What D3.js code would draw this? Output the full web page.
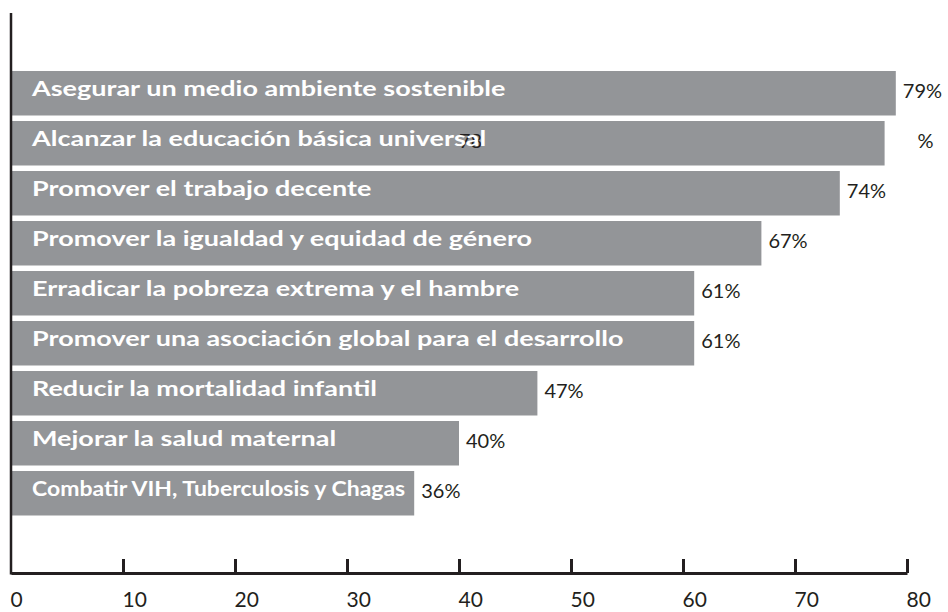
<!DOCTYPE html>
<html><head><meta charset="utf-8">
<script src="https://cdn.jsdelivr.net/npm/d3@7"></script>
<style>body{margin:0;background:#fff}svg{display:block}</style>
</head><body>
<script>
const categories = [
  "Asegurar un medio ambiente sostenible",
  "Alcanzar la educación básica universal",
  "Promover el trabajo decente",
  "Promover la igualdad y equidad de género",
  "Erradicar la pobreza extrema y el hambre",
  "Promover una asociación global para el desarrollo",
  "Reducir la mortalidad infantil",
  "Mejorar la salud maternal",
  "Combatir VIH, Tuberculosis y Chagas"
];
const values = [79, 78, 74, 67, 61, 61, 47, 40, 36];
const xTicks = [0, 10, 20, 30, 40, 50, 60, 70, 80];

const W = 948, H = 612;
const svg = d3.select("body").append("svg").attr("width", W).attr("height", H);
const font = "Lato, 'Open Sans', sans-serif";
const ink = "#231f20";

const x = d3.scaleLinear().domain([0, 80]).range([11, 907]);
const y = d3.scaleBand().domain(categories).range([68.5, 518]).paddingInner(0.11).paddingOuter(0.05);

// bars
svg.selectAll("rect.bar").data(categories).join("rect")
  .attr("class", "bar")
  .attr("x", x(0))
  .attr("y", d => y(d))
  .attr("width", (d, i) => x(values[i]) - x(0))
  .attr("height", y.bandwidth())
  .attr("fill", "#939598");

// value labels
svg.selectAll("text.val").data(categories).join("text")
  .attr("class", "val")
  .attr("x", (d, i) => i === 1 ? x(40) : x(values[i]) + 7)
  .attr("y", d => y(d) + y.bandwidth() / 2 + 4.5)
  .attr("font-family", font).attr("font-size", 20).attr("fill", ink)
  .text((d, i) => i === 1 ? String(values[i]) : values[i] + "%");
// stray percent sign of the second bar
svg.append("text")
  .attr("x", x(values[1]) + 33)
  .attr("y", y(categories[1]) + y.bandwidth() / 2 + 4.5)
  .attr("font-family", font).attr("font-size", 20).attr("fill", ink)
  .text("%");

// category labels (wide humanist bold: stretched horizontally)
svg.selectAll("text.cat").data(categories).join("text")
  .attr("class", "cat")
  .attr("x", 32)
  .attr("y", d => y(d) + y.bandwidth() / 2 + 3)
  .attr("font-family", font).attr("font-weight", 700)
  .attr("font-size", 20)
  .attr("fill", "#fff")
  .text(d => d)
  .each(function(d, i) {
    const len = this.getComputedTextLength();
    const target = i === 8 ? (x(values[i]) - 41) : len * 1.35;
    d3.select(this).attr("textLength", target).attr("lengthAdjust", "spacingAndGlyphs");
  });

// x axis
const axis = d3.axisBottom(x).tickValues(xTicks).tickSizeInner(-14).tickSizeOuter(0);
const g = svg.append("g").attr("transform", "translate(0,573)").call(axis);
g.select(".domain").attr("stroke", ink).attr("stroke-width", 3);
g.selectAll(".tick line").attr("stroke", ink).attr("stroke-width", 3);
g.selectAll(".tick text").attr("font-family", font).attr("font-size", 21).attr("fill", ink)
  .attr("text-anchor", "start").attr("x", -1).attr("y", 34).attr("dy", null);
g.select(".tick line").remove();

// y axis line
svg.append("line").attr("x1", 11).attr("x2", 11).attr("y1", 13).attr("y2", 574.5)
  .attr("stroke", ink).attr("stroke-width", 2.5);
</script>
</body></html>
